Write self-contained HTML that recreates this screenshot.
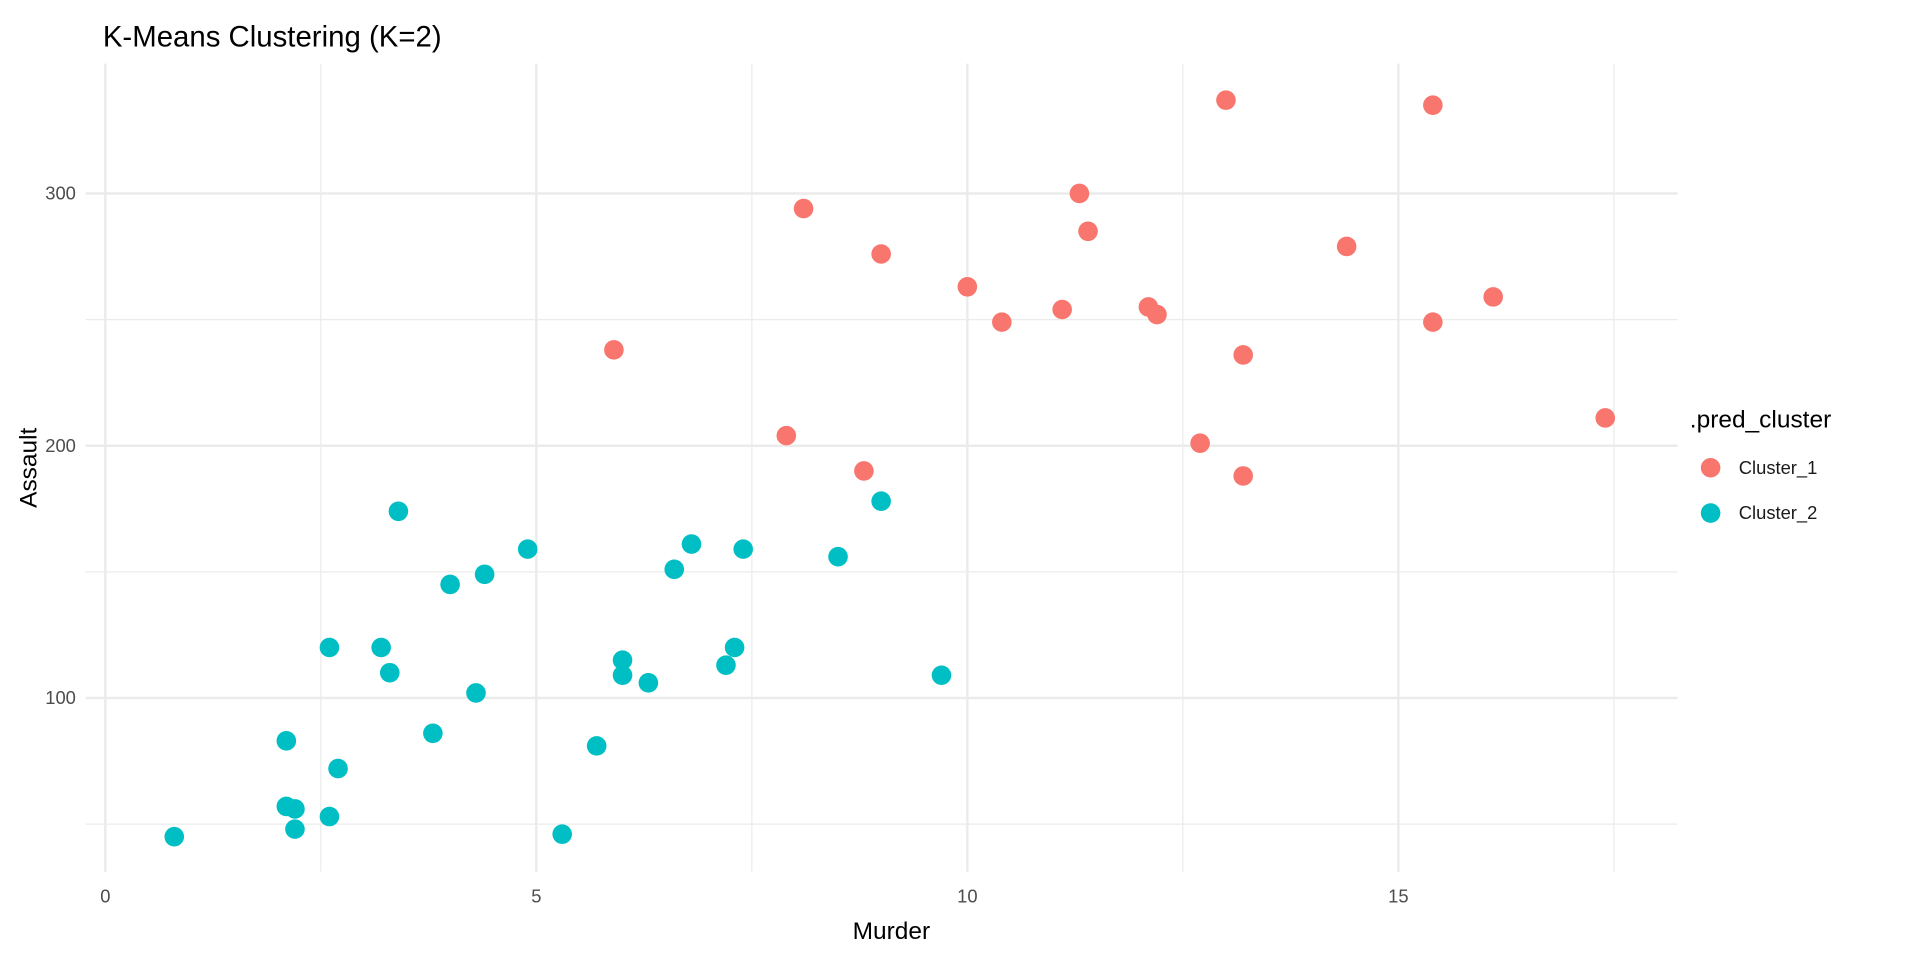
<!DOCTYPE html>
<html><head><meta charset="utf-8"><style>
body{margin:0;background:#fff;}
svg text{font-family:"Liberation Sans",sans-serif;}
</style></head><body>
<svg id="s" width="1920" height="960" xmlns="http://www.w3.org/2000/svg">
<rect width="1920" height="960" fill="#fff"/>
<g transform="scale(1.22449)">
<g id="grid"></g>
<g id="pts"></g>
<text x="84" y="38" font-size="24" fill="#000">K-Means Clustering (K=2)</text>
<g font-size="15" fill="#4d4d4d" text-anchor="end">
<text x="62" y="163">300</text>
<text x="62" y="369">200</text>
<text x="62" y="575">100</text>
</g>
<g font-size="15" fill="#4d4d4d" text-anchor="middle">
<text x="86" y="737">0</text>
<text x="438" y="737">5</text>
<text x="790" y="737">10</text>
<text x="1142" y="737">15</text>
</g>
<text x="728" y="767" font-size="20" text-anchor="middle">Murder</text>
<text transform="translate(30,382) rotate(-90)" font-size="20" text-anchor="middle">Assault</text>
<text x="1380" y="349" font-size="20">.pred_cluster</text>
<circle cx="1397" cy="382" r="8" fill="#F8766D"/>
<circle cx="1397" cy="419" r="8" fill="#00BFC4"/>
<text x="1420" y="387" font-size="15" fill="#1a1a1a">Cluster_1</text>
<text x="1420" y="424" font-size="15" fill="#1a1a1a">Cluster_2</text>
</g>
</svg>
<script>
var ns="http://www.w3.org/2000/svg";
function X(m){return 86+70.4*m;}function Y(a){return 776-2.06*a;}
var g=document.getElementById("grid");
function line(x1,y1,x2,y2,w){var l=document.createElementNS(ns,"line");l.setAttribute("x1",x1);l.setAttribute("y1",y1);l.setAttribute("x2",x2);l.setAttribute("y2",y2);l.setAttribute("stroke","#ebebeb");l.setAttribute("stroke-width",w);g.appendChild(l);}
[50,150,250].forEach(function(a){line(70,Y(a),1370,Y(a),1);});
[100,200,300].forEach(function(a){line(70,Y(a),1370,Y(a),2);});
[2.5,7.5,12.5,17.5].forEach(function(m){line(X(m),52,X(m),712,1);});
[0,5,10,15].forEach(function(m){line(X(m),52,X(m),712,2);});
var d=[[13.2,236],[10,263],[8.1,294],[8.8,190],[9,276],[7.9,204],[3.3,110],[5.9,238],[15.4,335],[17.4,211],[5.3,46],[2.6,120],[10.4,249],[7.2,113],[2.2,56],[6,115],[9.7,109],[15.4,249],[2.1,83],[11.3,300],[4.4,149],[12.1,255],[2.7,72],[16.1,259],[9,178],[6,109],[4.3,102],[12.2,252],[2.1,57],[7.4,159],[11.4,285],[11.1,254],[13,337],[0.8,45],[7.3,120],[6.6,151],[4.9,159],[6.3,106],[3.4,174],[14.4,279],[3.8,86],[13.2,188],[12.7,201],[3.2,120],[2.2,48],[8.5,156],[4,145],[5.7,81],[2.6,53],[6.8,161]];
var p=document.getElementById("pts");
d.forEach(function(v){var c=document.createElementNS(ns,"circle");c.setAttribute("cx",X(v[0]));c.setAttribute("cy",Y(v[1]));c.setAttribute("r",8);c.setAttribute("fill",v[1]>=185?"#F8766D":"#00BFC4");p.appendChild(c);});
</script>
</body></html>
